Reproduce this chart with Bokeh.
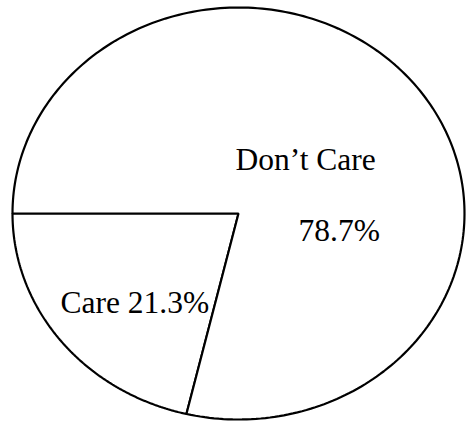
import numpy as np
from bokeh.plotting import figure
from bokeh.models import Range1d, ColumnDataSource
from bokeh.core.properties import value
from bokeh.embed import file_html
from bokeh.resources import INLINE

categories = ["Care", "Don't Care"]
shares = [21.3, 78.7]
labels = ["Care 21.3%", "Don\u2019t Care", "78.7%"]

W, H = 466, 421
cx_px, cy_px, rx_px, ry_px = 238, 213, 226, 206
x0 = -cx_px / rx_px
y0 = -(H - cy_px) / ry_px

p = figure(width=W, height=H, output_backend="svg", toolbar_location=None,
           x_range=Range1d(x0, x0 + W / rx_px), y_range=Range1d(y0, y0 + H / ry_px),
           min_border=0, outline_line_color=None)
p.axis.visible = False
p.grid.visible = False
p.background_fill_color = "white"
p.border_fill_color = "white"

start = np.pi
xs, ys = [], []
for s in shares:
    end = start + 2 * np.pi * s / 100.0
    t = np.linspace(start, end, 240)
    xs.append([0.0] + list(np.cos(t)) + [0.0])
    ys.append([0.0] + list(np.sin(t)) + [0.0])
    start = end

src = ColumnDataSource(dict(xs=xs, ys=ys, cat=categories))
p.patches("xs", "ys", source=src, fill_color="white", line_color="black", line_width=2.2)

tx = [(60 - cx_px) / rx_px, (235 - cx_px) / rx_px, (298 - cx_px) / rx_px]
ty = [(cy_px - 302) / ry_px, (cy_px - 159) / ry_px, (cy_px - 230) / ry_px]
p.text(x=tx, y=ty, text=labels, text_font=value("Liberation Serif"),
       text_font_size="31.5px", text_align="left", text_baseline="alphabetic",
       text_color="black")

open("out.html", "w").write(file_html(p, INLINE))
